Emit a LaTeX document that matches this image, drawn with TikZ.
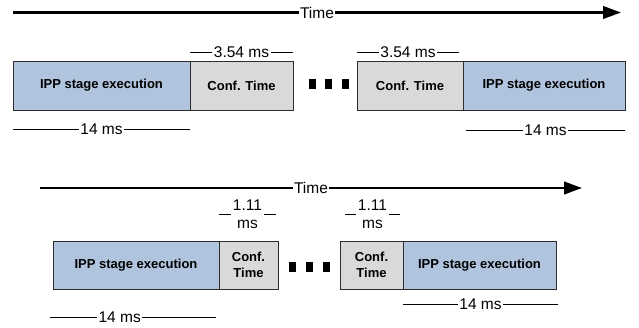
\documentclass[tikz,border=0pt]{standalone}
\usepackage{fontspec}
\setmainfont{Liberation Sans}
\usetikzlibrary{positioning,arrows.meta}

\definecolor{ippblue}{RGB}{176,196,222}
\definecolor{confgray}{RGB}{217,217,217}
\definecolor{edgegray}{RGB}{45,45,45}

\tikzset{
  stagebox/.style={draw=edgegray, line width=1pt, inner sep=0pt, outer sep=0pt,
    anchor=north west, align=center, font=\fontsize{13}{15.5}\selectfont\bfseries},
  ippbox/.style={stagebox, fill=ippblue},
  confbox/.style={stagebox, fill=confgray},
  lbl/.style={fill=white, inner sep=1.5pt, align=center,
    font=\fontsize{15.5}{18}\selectfont},
  dimline/.style={draw=black, line width=0.9pt},
  timeline/.style={draw=black, line width=2.5pt,
    -{Triangle[length=18pt,width=12.5pt]}},
}

\begin{document}
\begin{tikzpicture}[x=1pt,y=-1pt]
  \useasboundingbox (0,0) rectangle (639,327);

  % Top: 3.54 ms reconfiguration
  \coordinate (ts1) at (13,12.5);
  \coordinate (te1) at (621,12.5);
  \draw[timeline] (ts1) -- node[lbl] {Time} (te1);

  \node[ippbox, minimum width=177pt, minimum height=49pt] (ipp1) at (13,61) {IPP stage execution};
  \node[confbox, minimum width=103pt, minimum height=49pt] (conf1) at (ipp1.north east) {Conf. Time};
  \node[confbox, minimum width=106pt, minimum height=49pt] (conf2) at (357,61) {Conf. Time};
  \node[ippbox, minimum width=162pt, minimum height=49pt] (ipp2) at (conf2.north east) {IPP stage execution};

  \draw[dimline] ([yshift=9pt]conf1.north west) -- node[lbl] {3.54 ms} ([yshift=9pt]conf1.north east);
  \draw[dimline] ([yshift=9pt]conf2.north west) -- node[lbl] {3.54 ms} ([yshift=9pt,xshift=-4pt]conf2.north east);
  \draw[dimline] ([yshift=-19pt]ipp1.south west) -- node[lbl] {14 ms} ([yshift=-19pt]ipp1.south east);
  \draw[dimline] ([yshift=-20pt,xshift=3pt]ipp2.south west) -- node[lbl] {14 ms} ([yshift=-20pt]ipp2.south east);

  % gap dots
  \foreach \x in {312,328.5,345}
    \fill[black] (\x-3.5,79) rectangle (\x+3.5,89);

  % Bottom: 1.11 ms reconfiguration
  \coordinate (ts2) at (40,188);
  \coordinate (te2) at (582,188);
  \draw[timeline] (ts2) -- node[lbl] {Time} (te2);

  \node[ippbox, minimum width=166pt, minimum height=48pt] (ipp3) at (53,241) {IPP stage execution};
  \node[confbox, minimum width=59pt, minimum height=48pt] (conf3) at (ipp3.north east) {Conf.\\Time};
  \node[confbox, minimum width=63pt, minimum height=48pt] (conf4) at (340,241) {Conf.\\Time};
  \node[ippbox, minimum width=153pt, minimum height=48pt] (ipp4) at (conf4.north east) {IPP stage execution};

  \draw[dimline] ([yshift=27pt]conf3.north west) -- node[lbl] {1.11\\ms} ([yshift=27pt,xshift=-2pt]conf3.north east);
  \draw[dimline] ([yshift=27pt,xshift=5pt]conf4.north west) -- node[lbl] {1.11\\ms} ([yshift=27pt,xshift=-3pt]conf4.north east);
  \draw[dimline] ([yshift=-28pt,xshift=-3pt]ipp3.south west) -- node[lbl, pos=0.42] {14 ms} ([yshift=-28pt,xshift=-3pt]ipp3.south east);
  \draw[dimline] ([yshift=-15pt]ipp4.south west) -- node[lbl] {14 ms} ([yshift=-15pt,xshift=2pt]ipp4.south east);

  \foreach \x in {292,309,326}
    \fill[black] (\x-3.5,262) rectangle (\x+3.5,272);
\end{tikzpicture}
\end{document}
